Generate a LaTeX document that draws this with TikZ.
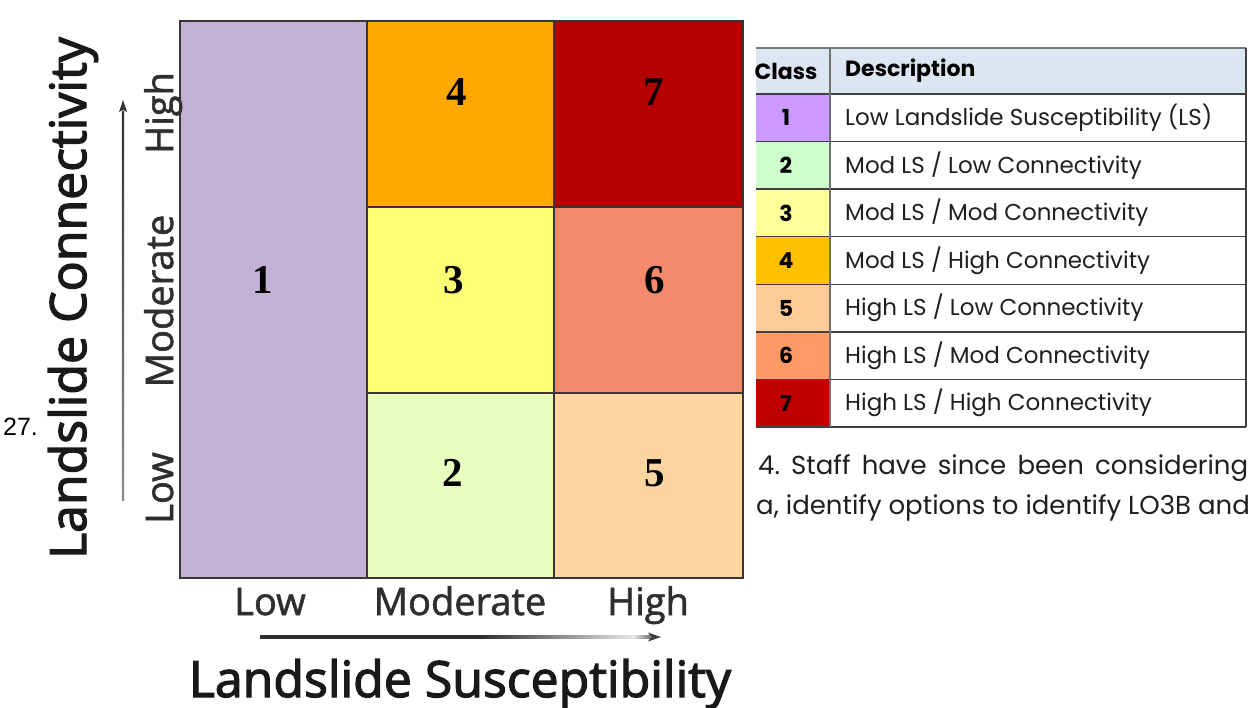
\documentclass[tikz,border=0pt]{standalone}
\usepackage{fontspec}
\usepackage{graphicx}
\usetikzlibrary{calc}
\setmainfont{Liberation Serif}
\newfontfamily\axisfont[FakeBold=2.5]{Open Sans}
\newfontfamily\tickfont[FakeBold=1.5]{Open Sans}
\newfontfamily\tabfont{Poppins}
\newfontfamily\numfont{Liberation Serif}
\newfontfamily\notefont{Liberation Sans}
\frenchspacing

% matrix cell colours
\definecolor{cellA}{HTML}{C3B1D6}
\definecolor{cellB}{HTML}{E8FDBE}
\definecolor{cellC}{HTML}{FFFF73}
\definecolor{cellD}{HTML}{FFA800}
\definecolor{cellE}{HTML}{FDD5A1}
\definecolor{cellF}{HTML}{F5896B}
\definecolor{cellG}{HTML}{B40000}
\definecolor{gridline}{HTML}{3C3434}
% legend colours
\definecolor{legHead}{HTML}{DCE6F2}
\definecolor{legA}{HTML}{CC99FF}
\definecolor{legB}{HTML}{CCFFCC}
\definecolor{legC}{HTML}{FFFF99}
\definecolor{legD}{HTML}{FFC000}
\definecolor{legE}{HTML}{FFCC99}
\definecolor{legF}{HTML}{FF9966}
\definecolor{legG}{HTML}{C00000}
\definecolor{legline}{HTML}{404040}

\tikzset{
  cellnum/.style={inner sep=0pt, font=\numfont\bfseries\fontsize{41}{41}\selectfont},
  ticklab/.style={inner sep=0pt, anchor=base, font=\tickfont\fontsize{38}{40}\selectfont, text=black!82},
  axistitle/.style={inner sep=0pt, anchor=base, font=\axisfont\fontsize{50}{55}\selectfont, text=black!90},
  classnum/.style={inner sep=0pt, font=\tabfont\bfseries\fontsize{22}{24}\selectfont},
  desc/.style={inner sep=0pt, anchor=west, font=\tabfont\fontsize{23}{25}\selectfont, text=black!88},
  para/.style={inner sep=0pt, anchor=base west, font=\tabfont\fontsize{26}{30}\selectfont, text=black!88},
}

\begin{document}
\begin{tikzpicture}[x=1pt,y=-1pt]
\useasboundingbox[fill=white] (0,0) rectangle (1250,708);

% ---- 3x3 susceptibility / connectivity matrix ----
\fill[cellA] (180,21) rectangle (367,578);
\fill[cellD] (367,21) rectangle (554,207);
\fill[cellG] (554,21) rectangle (743,207);
\fill[cellC] (367,207) rectangle (554,393);
\fill[cellF] (554,207) rectangle (743,393);
\fill[cellB] (367,393) rectangle (554,578);
\fill[cellE] (554,393) rectangle (743,578);
\draw[gridline, line width=2.4pt] (180,21) rectangle (743,578);
\draw[gridline, line width=2.4pt] (367,21) -- (367,578) (554,21) -- (554,578)
  (367,207) -- (743,207) (367,393) -- (743,393);

\node[cellnum] (n1) at (263,280) {1};
\node[cellnum] (n4) at (457,92) {4};
\node[cellnum] (n7) at (654,92) {7};
\node[cellnum] (n3) at (454,280) {3};
\node[cellnum] (n6) at (655,280) {6};
\node[cellnum] (n2) at (453,473) {2};
\node[cellnum] (n5) at (655,473) {5};

% ---- horizontal axis ----
\node[ticklab] (xlow) at (270,615) {Low};
\node[ticklab] (xmod) at (460,615) {Moderate};
\node[ticklab] (xhigh) at (648,615) {High};
\coordinate (xa0) at (260,637);
\coordinate (xam) at (480,637);
\coordinate (xa1) at (649,637);
\coordinate (xtip) at (661,637);
\fill[black!82] ($(xa0)+(0,-1.7)$) rectangle ($(xam)+(0,1.5)$);
\shade[left color=black!82, right color=black!10]
  ($(xam)+(0,-1.5)$) rectangle ($(xa1)+(-15,1.1)$);
\shade[left color=black!10, right color=black!55]
  ($(xa1)+(-15,-1.1)$) rectangle ($(xa1)+(1,1.1)$);
\fill[black!75] (xtip) -- ($(xa1)+(-1,-4.5)$) -- ($(xa1)+(2,0)$) -- ($(xa1)+(-1,4.5)$) -- cycle;
\node[axistitle] (xtitle) at (460,697) {Landslide Susceptibility};

% ---- vertical axis ----
\node[ticklab, rotate=90] (ylow) at (173,488) {Low};
\node[ticklab, rotate=90] (ymod) at (173,301) {Moderate};
\node[ticklab, rotate=90] (yhigh) at (173,113) {High};
\coordinate (ya0) at (123,500);
\coordinate (ya1) at (123,112);
\coordinate (ytip) at (123,100);
\shade[bottom color=black!45, top color=black!80]
  ($(ya0)+(-1.1,0)$) rectangle ($(ya1)+(1.1,0)$);
\fill[black!80] (ytip) -- ($(ya1)+(-4,0)$) -- ($(ya1)+(0,-2)$) -- ($(ya1)+(4,0)$) -- cycle;
\node[axistitle, rotate=90] (ytitle) at (86,298) {Landslide Connectivity};

\node[inner sep=0pt, anchor=base west, font=\notefont\fontsize{25}{28}\selectfont] (num) at (3,435) {27.};

% ---- class legend table ----
\fill[legHead] (756,48) rectangle (1246,94);
\foreach \c [count=\i] in {legA,legB,legC,legD,legE,legF,legG}
  \fill[\c] (756,{94+(\i-1)*47.57}) rectangle (830,{94+\i*47.57});
\foreach \i in {0,...,7}
  \draw[legline, line width=1.5pt] (756,{94+\i*47.57}) -- (1246,{94+\i*47.57});
\draw[legline!70, line width=1.5pt] (756,48) -- (1246,48);
\draw[legline, line width=1.5pt] (1246,48) -- (1246,427);
\draw[legline!75, line width=2pt] (830,48) -- (830,427);

\node[classnum] (hclass) at (786,71) {Class};
\node[classnum, anchor=west] (hdesc) at (845,71) {Description};
\foreach \i in {1,...,7}
  \node[classnum] (k\i) at (786,{94+(\i-0.5)*47.57}) {\i};
\node[desc] (d1) at (845,118)   {Low Landslide Susceptibility (LS)};
\node[desc] (d2) at (845,165.5) {Mod LS / Low Connectivity};
\node[desc] (d3) at (845,213)   {Mod LS / Mod Connectivity};
\node[desc] (d4) at (845,260.5) {Mod LS / High Connectivity};
\node[desc] (d5) at (845,308)   {High LS / Low Connectivity};
\node[desc] (d6) at (845,355.5) {High LS / Mod Connectivity};
\node[desc] (d7) at (845,403)   {High LS / High Connectivity};

% ---- running text beside the table ----
\node[para] (p1) at (758,474) {\makebox[490pt][s]{4. Staff have since been considering}};
\node[para] (p2) at (756,514) {a, identify options to identify LO3B and};
\end{tikzpicture}
\end{document}
